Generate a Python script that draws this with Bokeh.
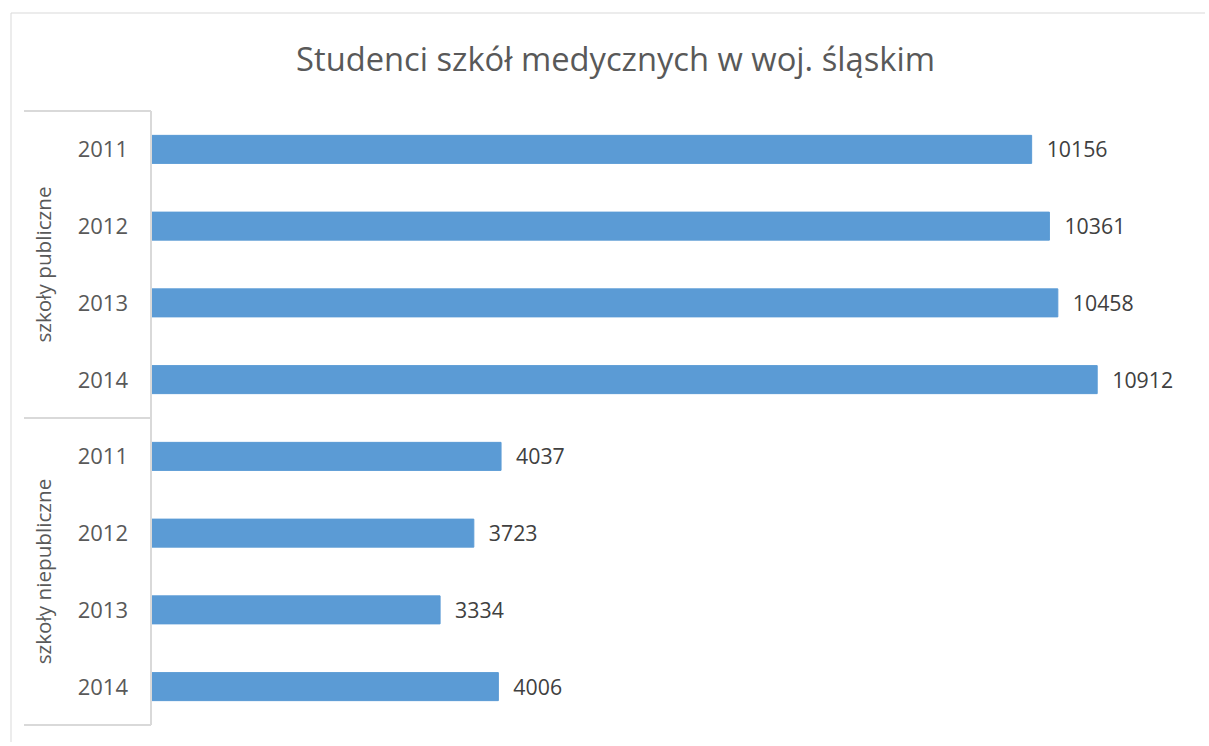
import math
from bokeh.plotting import figure
from bokeh.models import Range1d, ColumnDataSource
from bokeh.core.properties import value
from bokeh.embed import file_html
from bokeh.resources import INLINE

# ---- data ----
title_text = "Studenci szkół medycznych w woj. śląskim"
groups = ["szkoły publiczne", "szkoły niepubliczne"]
years = ["2011", "2012", "2013", "2014"]
publiczne = [10156, 10361, 10458, 10912]
niepubliczne = [4037, 3723, 3334, 4006]

# ---- layout constants ----
W, H = 1205, 742
X0_PX = 150.5                 # canvas x of value 0
PX_PER_UNIT = 946.2 / 10912   # horizontal scale
ROW_PX = 76.75                # height of one category row
ROW_TOP_PX = 110.5            # canvas y of first row's top edge

def xdata(cx):
    return (cx - X0_PX) / PX_PER_UNIT

def ydata(cy):
    return -0.5 + (cy - ROW_TOP_PX) / ROW_PX

FONT = value("Open Sans")
BAR_COLOR = "#5B9BD5"
LINE_COLOR = "#d9d9d9"

labels, vals, ypos = [], [], []
for g, series in zip(groups, [publiczne, niepubliczne]):
    for yr, v in zip(years, series):
        labels.append(yr)
        vals.append(v)
        ypos.append(len(ypos))

src = ColumnDataSource(dict(y=ypos, v=vals, year=labels,
                            vtxt=[str(v) for v in vals], zero=[0] * len(vals)))

p = figure(width=W, height=H, output_backend="svg", toolbar_location=None,
           x_range=Range1d(xdata(0), xdata(W)),
           y_range=Range1d(ydata(H), ydata(0)),
           x_axis_type=None, y_axis_type=None, min_border=0,
           background_fill_color="white", border_fill_color="white")
p.grid.visible = False
p.outline_line_color = None

# outer chart border (top + left)
bx, by = xdata(10.5), ydata(12.5)
p.segment(x0=[bx, bx], y0=[by, by], x1=[xdata(W + 20), bx], y1=[by, ydata(H + 20)],
          line_color=LINE_COLOR, line_width=1)

# title
p.text(x=[xdata(615)], y=[ydata(58)], text=[title_text], text_font=FONT,
       text_font_size="32.7px", text_color="#595959", text_align="center",
       text_baseline="middle")

# bars
p.hbar(y="y", left="zero", right="v", height=0.365, source=src,
       fill_color=BAR_COLOR, line_color=BAR_COLOR)

# value labels
p.text(x="v", y="y", text="vtxt", source=src, x_offset=15, text_font=FONT,
       text_font_size="21.3px", text_color="#404040", text_align="left",
       text_baseline="middle")

# category axis line and group boxes
n = len(vals)
p.segment(x0=[0], y0=[-0.5], x1=[0], y1=[n - 0.5], line_color=LINE_COLOR, line_width=2)
bounds = [-0.5, len(years) - 0.5, n - 0.5]
p.ray(x=[0] * len(bounds), y=bounds, length=127, angle=math.pi, length_units="screen",
      line_color=LINE_COLOR, line_width=2)

# year labels
p.text(x="zero", y="y", text="year", source=src, x_offset=-23, text_font=FONT,
       text_font_size="22px", text_color="#595959", text_align="right",
       text_baseline="middle")

# group labels (rotated)
gy = [i * len(years) + (len(years) - 1) / 2 for i in range(len(groups))]
p.text(x=[0] * len(groups), y=gy, text=groups, x_offset=-108, angle=math.pi / 2,
       text_font=FONT, text_font_size="20.7px", text_color="#595959",
       text_align="center", text_baseline="middle")

open("out.html", "w").write(file_html(p, INLINE))
